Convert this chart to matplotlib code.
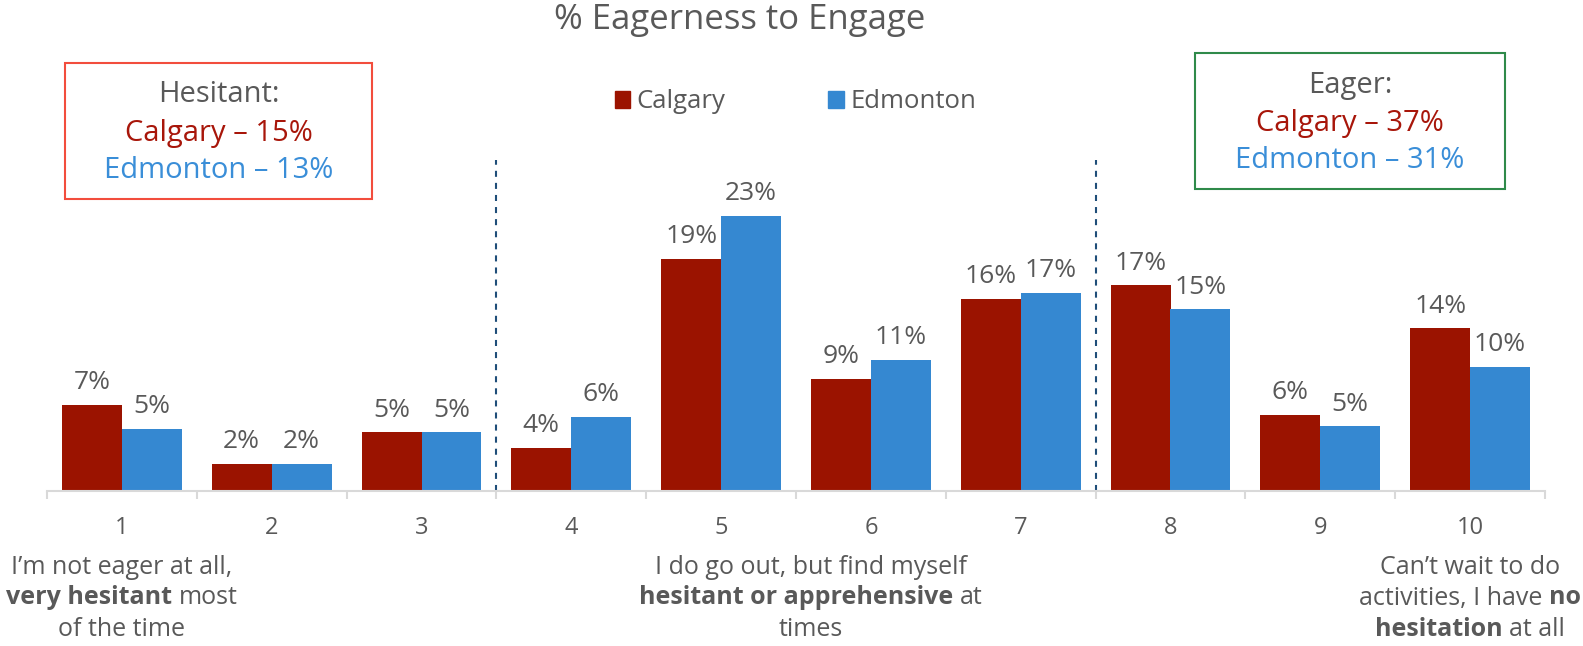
import matplotlib
matplotlib.use("Agg")
import matplotlib.pyplot as plt
from matplotlib.patches import Rectangle, Patch

plt.rcParams['font.family'] = ['Open Sans', 'DejaVu Sans']

# survey scores 1..10, share of respondents (%)
scores = ['1', '2', '3', '4', '5', '6', '7', '8', '9', '10']
calgary = [7.2, 2.3, 4.9, 3.6, 19.4, 9.4, 16.1, 17.2, 6.4, 13.6]
edmonton = [5.2, 2.3, 4.9, 6.2, 23.0, 11.0, 16.6, 15.2, 5.4, 10.4]

hesitant = {'Calgary': 15, 'Edmonton': 13}
eager = {'Calgary': 37, 'Edmonton': 31}

RED = '#9B1300'
BLUE = '#3588D1'
GRAY = '#595959'
W, H = 1583, 646

fig = plt.figure(figsize=(W / 100, H / 100), dpi=100)
ax = fig.add_axes([47 / W, 1 - 491 / H, 1498 / W, (491 - 160) / H])

x = list(range(1, len(scores) + 1))
bw = 0.4
b1 = ax.bar([i - bw / 2 for i in x], calgary, bw, color=RED, label='Calgary')
b2 = ax.bar([i + bw / 2 for i in x], edmonton, bw, color=BLUE, label='Edmonton')
for bars in (b1, b2):
    ax.bar_label(bars, labels=[f'{round(b.get_height())}%' for b in bars],
                 padding=7, fontsize=19, color=GRAY)

ymax = 27.7
ax.set_xlim(0.5, 10.5)
ax.set_ylim(0, ymax)
ax.vlines([3.5, 7.5], 0, ymax, colors='#1F4E79', linewidth=1.5,
          linestyles=(0, (2.9, 2.9)))

for s in ('left', 'top', 'right'):
    ax.spines[s].set_visible(False)
ax.spines['bottom'].set_color('#D9D9D9')
ax.spines['bottom'].set_linewidth(1.5)
ax.set_yticks([])
ax.set_xticks(x)
ax.set_xticklabels(scores, fontsize=17, color=GRAY)
ax.tick_params(axis='x', which='major', length=0, pad=18)
ax.set_xticks([i + 0.5 for i in range(11)], minor=True)
ax.tick_params(axis='x', which='minor', length=6, width=1.5, color='#D9D9D9')

leg = ax.legend(handles=[Patch(color=RED, label='Calgary'), Patch(color=BLUE, label='Edmonton')],
                loc='center left', bbox_to_anchor=(615 / W, 1 - 102 / H),
                bbox_transform=fig.transFigure, ncol=2, frameon=False,
                fontsize=18.5, handlelength=0.6, handleheight=0.6,
                handletextpad=0.25, columnspacing=4.0, borderpad=0, borderaxespad=0)
for t in leg.get_texts():
    t.set_color(GRAY)

fig.text(740 / W, 1 - 20 / H, '% Eagerness to Engage', fontsize=25, color=GRAY,
         ha='center', va='center')


def fy(y):
    return 1 - y / H


# summary boxes
def summary(x0, y0, x1, y1, edge, title, vals, ys):
    fig.patches.append(Rectangle((x0 / W, fy(y1)), (x1 - x0) / W, (y1 - y0) / H,
                                 transform=fig.transFigure, fill=False,
                                 edgecolor=edge, linewidth=1.5))
    cx = (x0 + x1) / 2 / W
    fig.text(cx, fy(ys[0]), title, fontsize=21, color=GRAY, ha='center', va='center')
    fig.text(cx, fy(ys[1]), f"Calgary \u2013 {vals['Calgary']}%", fontsize=21,
             color='#A8160A', ha='center', va='center')
    fig.text(cx, fy(ys[2]), f"Edmonton \u2013 {vals['Edmonton']}%", fontsize=21,
             color='#3A8ED8', ha='center', va='center')


summary(65, 63, 372, 199, '#F24D3D', 'Hesitant:', hesitant, (94, 133, 171))
summary(1195, 53, 1505, 189, '#2F8A4A', 'Eager:', eager, (85, 123, 161))

# scale descriptions with bold key phrases
renderer = fig.canvas.get_renderer()


def width_of(s, bold, size):
    t = fig.text(0, 0, s, fontsize=size, fontweight='bold' if bold else 'normal')
    w = t.get_window_extent(renderer).width
    t.remove()
    return w


def rich_line(parts, cx, y, size=18):
    space = width_of('n n', False, size) - width_of('nn', False, size)
    texts = []
    for s, bold in parts:
        texts.append(fig.text(0, fy(y), s, fontsize=size, color=GRAY, ha='left', va='center',
                              fontweight='bold' if bold else 'normal'))
    widths = [t.get_window_extent(renderer).width for t in texts]
    xx = cx - (sum(widths) + space * (len(widths) - 1)) / 2
    for t, w in zip(texts, widths):
        t.set_x(xx / W)
        xx += w + space


line_y = (567, 598, 629)
left_desc = [[("I\u2019m not eager at all,", False)],
             [("very hesitant", True), ("most", False)],
             [("of the time", False)]]
mid_desc = [[("I do go out, but find myself", False)],
            [("hesitant or apprehensive", True), ("at", False)],
            [("times", False)]]
right_desc = [[("Can\u2019t wait to do", False)],
              [("activities, I have", False), ("no", True)],
              [("hesitation", True), ("at all", False)]]

for desc, cx in ((left_desc, 122), (mid_desc, 811), (right_desc, 1470)):
    for parts, y in zip(desc, line_y):
        rich_line(parts, cx, y)

fig.savefig('out.png', dpi=100)
